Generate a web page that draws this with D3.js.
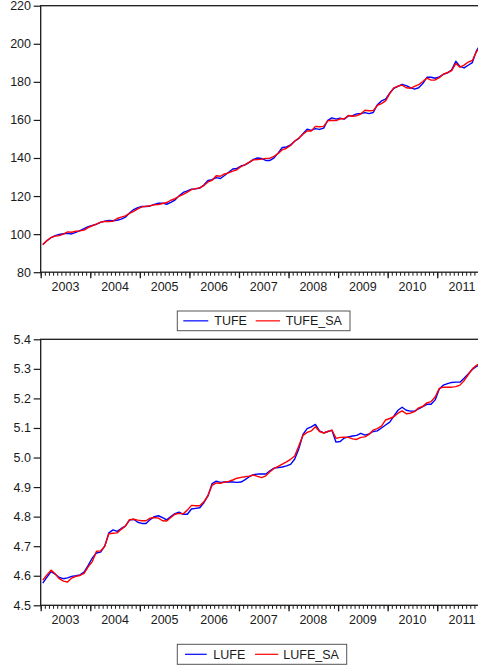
<!DOCTYPE html>
<html>
<head>
<meta charset="utf-8">
<script src="https://cdn.jsdelivr.net/npm/d3@7"></script>
<style>
  body { margin: 0; background: #fff; }
  svg { display: block; }
  text { font-family: "Liberation Sans", Arial, sans-serif; font-size: 12.5px; fill: #1a1a1a; }
</style>
</head>
<body>
<svg id="chart" width="478" height="670"></svg>
<script>
// Monthly observations, 2003M01 - 2011M12
const years = [2003, 2004, 2005, 2006, 2007, 2008, 2009, 2010, 2011];

const tufe = [
  94.6, 96.5, 98.1, 99.2, 99.8, 100.2, 100.4, 100.1, 100.9, 101.9, 102.9, 103.9,
  104.6, 105.2, 106.2, 106.8, 107.2, 107.0, 107.3, 107.9, 108.9, 111.1, 112.9, 113.9,
  114.5, 114.5, 114.8, 115.6, 116.2, 116.3, 115.7, 116.7, 117.9, 120.1, 121.9, 122.7,
  123.6, 123.8, 124.2, 125.8, 128.2, 128.6, 129.7, 129.2, 130.8, 132.5, 134.2, 134.5,
  135.8, 136.4, 137.7, 139.3, 140.0, 139.7, 138.7, 138.7, 140.1, 142.7, 145.5, 145.8,
  146.9, 148.8, 150.3, 152.8, 155.1, 154.5, 155.4, 155.0, 155.7, 159.8, 161.1, 160.4,
  160.9, 160.4, 162.1, 162.2, 163.2, 163.4, 163.8, 163.3, 163.9, 167.9, 170.0, 170.9,
  174.1, 176.6, 177.6, 178.7, 178.0, 177.0, 176.2, 176.9, 179.1, 182.4, 182.4, 181.9,
  182.6, 183.9, 184.7, 186.3, 190.8, 188.1, 187.3, 188.7, 190.1, 196.3, 199.7, 200.9
];

const tufeSA = [
  94.4, 96.6, 98.2, 99.0, 99.2, 100.0, 101.2, 101.0, 101.5, 101.7, 102.1, 103.4,
  104.4, 105.3, 106.3, 106.6, 106.6, 106.8, 108.2, 108.9, 109.6, 110.9, 112.0, 113.3,
  114.3, 114.6, 114.9, 115.4, 115.5, 116.1, 116.6, 117.8, 118.6, 119.9, 120.9, 122.1,
  123.4, 123.9, 124.3, 125.5, 127.4, 128.3, 130.7, 130.4, 131.6, 132.2, 133.1, 133.8,
  135.5, 136.5, 137.8, 139.0, 139.2, 139.4, 139.8, 139.9, 140.9, 142.4, 144.3, 145.1,
  146.6, 148.9, 150.5, 152.5, 154.2, 154.2, 156.6, 156.4, 156.6, 159.5, 159.8, 159.6,
  160.6, 160.6, 162.3, 161.9, 162.2, 163.1, 165.1, 164.8, 164.9, 167.6, 168.6, 170.0,
  173.8, 176.8, 177.8, 178.3, 176.9, 176.6, 177.6, 178.5, 180.2, 182.0, 180.9, 181.0,
  182.2, 184.1, 184.9, 185.9, 189.7, 187.7, 188.8, 190.4, 191.2, 195.9, 198.1, 199.9
];

const lufe = [
  4.575, 4.595, 4.614, 4.605, 4.594, 4.590, 4.593, 4.598, 4.600, 4.603, 4.612, 4.635,
  4.660, 4.677, 4.680, 4.700, 4.745, 4.755, 4.750, 4.760, 4.768, 4.788, 4.791, 4.781,
  4.777, 4.777, 4.790, 4.800, 4.803, 4.797, 4.789, 4.800, 4.810, 4.815, 4.808, 4.808,
  4.826, 4.828, 4.830, 4.847, 4.870, 4.912, 4.920, 4.916, 4.917, 4.918, 4.917, 4.916,
  4.917, 4.925, 4.935, 4.942, 4.944, 4.944, 4.944, 4.955, 4.964, 4.966, 4.968, 4.972,
  4.977, 4.995, 5.030, 5.078, 5.098, 5.104, 5.112, 5.090, 5.083, 5.088, 5.092, 5.052,
  5.054, 5.066, 5.070, 5.073, 5.075, 5.082, 5.076, 5.080, 5.088, 5.090, 5.100, 5.110,
  5.120, 5.140, 5.160, 5.170, 5.160, 5.157, 5.157, 5.165, 5.172, 5.180, 5.180, 5.195,
  5.232, 5.245, 5.250, 5.254, 5.255, 5.255, 5.268, 5.283, 5.298, 5.308, 5.316, 5.322
];

const lufeSA = [
  4.585, 4.603, 4.619, 4.607, 4.590, 4.582, 4.579, 4.592, 4.598, 4.601, 4.608, 4.630,
  4.648, 4.683, 4.684, 4.700, 4.742, 4.744, 4.745, 4.757, 4.768, 4.790, 4.791, 4.788,
  4.786, 4.786, 4.795, 4.797, 4.795, 4.786, 4.785, 4.797, 4.808, 4.811, 4.810, 4.822,
  4.838, 4.837, 4.837, 4.850, 4.872, 4.906, 4.914, 4.913, 4.917, 4.919, 4.924, 4.930,
  4.933, 4.935, 4.937, 4.941, 4.936, 4.932, 4.938, 4.952, 4.963, 4.970, 4.978, 4.985,
  4.994, 5.005, 5.040, 5.075, 5.085, 5.090, 5.104, 5.088, 5.083, 5.088, 5.093, 5.065,
  5.068, 5.069, 5.068, 5.063, 5.061, 5.068, 5.070, 5.078, 5.093, 5.098, 5.106, 5.127,
  5.132, 5.138, 5.150, 5.158, 5.148, 5.150, 5.155, 5.168, 5.173, 5.185, 5.189, 5.205,
  5.234, 5.238, 5.238, 5.238, 5.240, 5.245, 5.260, 5.280, 5.300, 5.312, 5.320, 5.325
];

const ticksTop = [80, 100, 120, 140, 160, 180, 200, 220];
const ticksBottom = [4.5, 4.6, 4.7, 4.8, 4.9, 5.0, 5.1, 5.2, 5.3, 5.4];

const BLUE = "#0000ff", RED = "#ff0000", INK = "#1a1a1a";

const svg = d3.select("#chart");
const nMonths = tufe.length;
const left = 40.7, right = 486.8;
const x = d3.scaleLinear().domain([0, nMonths]).range([left, right]);

function panel(cfg, idx) {
  const y = d3.scaleLinear().domain(cfg.domain).range([cfg.bottom, cfg.top]);
  const g = svg.append("g");

  const clipId = "clip" + idx;
  g.append("clipPath").attr("id", clipId)
    .append("rect").attr("x", left).attr("y", cfg.top)
    .attr("width", right - left).attr("height", cfg.bottom - cfg.top);

  // Series lines, plotted at the middle of each month
  const line = d3.line().x((d, i) => x(i + 0.5)).y(d => y(d));
  cfg.series.forEach(s => {
    g.append("path").datum(s.values)
      .attr("clip-path", `url(#${clipId})`)
      .attr("fill", "none").attr("stroke", s.color)
      .attr("stroke-width", 1.4).attr("stroke-linejoin", "round")
      .attr("d", line);
  });

  // Frame
  g.append("rect").attr("x", left).attr("y", cfg.top)
    .attr("width", right - left).attr("height", cfg.bottom - cfg.top)
    .attr("fill", "none").attr("stroke", INK).attr("stroke-width", 1.3);

  // Y axis
  const ya = g.append("g").attr("transform", `translate(${left},0)`)
    .call(d3.axisLeft(y).tickValues(cfg.ticks).tickSize(7).tickPadding(2.7).tickFormat(cfg.format));
  ya.select(".domain").remove();
  ya.selectAll(".tick line").attr("stroke", INK).attr("stroke-width", 1.2);
  ya.selectAll(".tick text").attr("font-size", null).attr("font-family", null);

  // X axis: monthly minor ticks, yearly major ticks
  const xMinor = g.append("g").attr("transform", `translate(0,${cfg.bottom})`)
    .call(d3.axisBottom(x).tickValues(d3.range(0, nMonths + 1)).tickSize(3.5).tickFormat(""));
  xMinor.select(".domain").remove();
  xMinor.selectAll(".tick line").attr("stroke", INK).attr("stroke-width", 1);
  const xMajor = g.append("g").attr("transform", `translate(0,${cfg.bottom})`)
    .call(d3.axisBottom(x).tickValues(d3.range(0, nMonths + 1, 12)).tickSize(6).tickFormat(""));
  xMajor.select(".domain").remove();
  xMajor.selectAll(".tick line").attr("stroke", INK).attr("stroke-width", 1.3);

  g.append("g").selectAll("text").data(years).join("text")
    .attr("x", (d, i) => x(i * 12 + 6))
    .attr("y", cfg.bottom + 19)
    .attr("text-anchor", "middle")
    .text(d => d);

  // Legend
  const L = cfg.legend;
  const lg = g.append("g");
  lg.append("rect").attr("x", L.x).attr("y", L.y).attr("width", L.w).attr("height", L.h)
    .attr("fill", "#fff").attr("stroke", "#555").attr("stroke-width", 1);
  const my = L.y + L.h / 2;
  cfg.series.forEach((s, i) => {
    const it = L.items[i];
    lg.append("line").attr("x1", it.x1).attr("x2", it.x2).attr("y1", my).attr("y2", my)
      .attr("stroke", s.color).attr("stroke-width", 1.2);
    lg.append("text").attr("x", it.tx).attr("y", my + 4.5).text(s.name);
  });
}

panel({
  domain: [80, 220], top: 5.7, bottom: 272.2,
  ticks: ticksTop, format: d3.format("d"),
  series: [
    { name: "TUFE", values: tufe, color: BLUE },
    { name: "TUFE_SA", values: tufeSA, color: RED }
  ],
  legend: { x: 177.3, y: 311, w: 172.7, h: 19.7,
    items: [{ x1: 183.3, x2: 208.3, tx: 214.3 }, { x1: 255.7, x2: 280, tx: 285.7 }] }
}, 0);

panel({
  domain: [4.5, 5.4], top: 339.3, bottom: 605.3,
  ticks: ticksBottom, format: d3.format(".1f"),
  series: [
    { name: "LUFE", values: lufe, color: BLUE },
    { name: "LUFE_SA", values: lufeSA, color: RED }
  ],
  legend: { x: 177.3, y: 644.3, w: 169.4, h: 20,
    items: [{ x1: 185, x2: 206.7, tx: 213.3 }, { x1: 255, x2: 278.3, tx: 283.3 }] }
}, 1);
</script>
</body>
</html>
